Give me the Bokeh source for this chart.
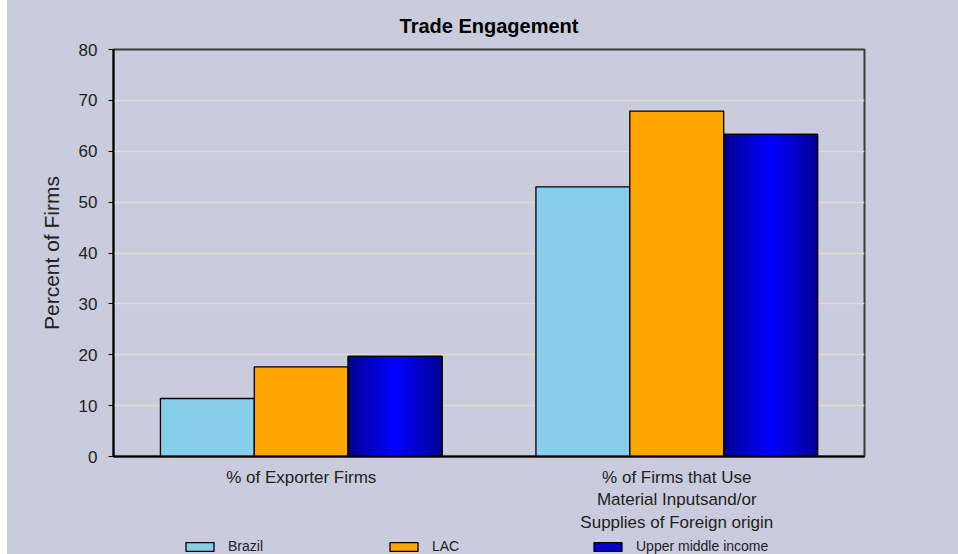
from bokeh.plotting import figure
from bokeh.models import ColumnDataSource, FactorRange, Legend, LegendItem, FixedTicker
from bokeh.layouts import column
from bokeh.transform import dodge
from bokeh.embed import file_html
from bokeh.resources import INLINE

# ---- data ----
categories = ["% of Exporter Firms",
              "% of Firms that Use\nMaterial Inputsand/or\nSupplies of Foreign origin"]
series_names = ["Brazil", "LAC", "Upper middle income"]
series_fields = ["brazil", "lac", "umi"]
series_colors = ["#87CEEB", "#FFA500", "#000095"]
legend_colors = ["#87CEEB", "#FFA500", "#0000CC"]
brazil = [11.4, 53.0]
lac = [17.6, 67.9]
umi = [19.7, 63.3]
y_ticks = [0, 10, 20, 30, 40, 50, 60, 70, 80]

src = ColumnDataSource(dict(cat=categories, brazil=brazil, lac=lac, umi=umi))

BG = "#CACBDD"
FONT = "Liberation Sans"
W = 951
BL, BR = 106, 94

p = figure(width=W, height=535, x_range=FactorRange(*categories, range_padding=0),
           y_range=(0, 80), output_backend="svg", toolbar_location=None,
           background_fill_color=BG, border_fill_color=BG,
           min_border_left=BL, min_border_right=BR, min_border_top=49, min_border_bottom=78)

p.title.text = "Trade Engagement"
p.title.align = "center"
p.title.text_font = FONT
p.title.text_font_size = "20px"
p.title.text_font_style = "bold"
p.title.text_color = "#000000"
p.title.standoff = 25

bw = 0.25
offsets = [-bw, 0, bw]
for fld, col, off in zip(series_fields, series_colors, offsets):
    p.vbar(x=dodge("cat", off, range=p.x_range), top=fld, width=bw, source=src,
           fill_color=col, line_color="#000000", line_width=1.3)
# horizontal gradient (dark edges -> bright centre) via nested bars
N = 18
for k in range(1, N):
    f = k / (N - 1)
    b = int(0x95 + (0xFF - 0x95) * f)
    p.vbar(x=dodge("cat", bw, range=p.x_range), top="umi", width=bw * (1 - k / N), source=src,
           fill_color="#0000%02x" % b, line_color=None)
p.vbar(x=dodge("cat", bw, range=p.x_range), top="umi", width=bw, source=src,
       fill_color=None, line_color="#000000", line_width=1.3)

# axes
p.xaxis.major_tick_line_color = None
p.xaxis.minor_tick_line_color = None
p.xaxis.axis_line_color = "#000000"
p.xaxis.axis_line_width = 2
p.xaxis.major_label_text_font = FONT
p.xaxis.major_label_text_font_size = "17px"
p.xaxis.major_label_text_color = "#222222"
p.xaxis.major_label_standoff = 5

p.yaxis.ticker = FixedTicker(ticks=y_ticks)
p.yaxis.axis_label = "Percent of Firms"
p.yaxis.axis_label_text_font = FONT
p.yaxis.axis_label_text_font_size = "21px"
p.yaxis.axis_label_text_font_style = "normal"
p.yaxis.axis_label_text_color = "#222222"
p.yaxis.axis_label_standoff = 13
p.yaxis.major_label_text_font = FONT
p.yaxis.major_label_text_font_size = "17px"
p.yaxis.major_label_text_color = "#222222"
p.yaxis.major_label_standoff = 11
p.yaxis.major_tick_out = 5
p.yaxis.major_tick_in = 0
p.yaxis.minor_tick_line_color = None
p.yaxis.axis_line_color = "#000000"
p.yaxis.axis_line_width = 2
p.yaxis.major_tick_line_color = "#000000"

p.xgrid.grid_line_color = None
p.ygrid.grid_line_color = "#DCDCD4"
p.ygrid.grid_line_width = 1.5

p.outline_line_color = "#3A3A3A"
p.outline_line_width = 2

# ---- legend strip below the chart (its bar renderers are hidden; only the legend shows) ----
lg = figure(width=W, height=19, x_range=FactorRange(*categories, range_padding=0),
            y_range=(0, 80), output_backend="svg", toolbar_location=None,
            background_fill_color=BG, border_fill_color=BG,
            min_border_left=BL, min_border_right=BR, min_border_top=0, min_border_bottom=0)
lg.axis.visible = False
lg.grid.visible = False
lg.outline_line_color = None
items = []
for name, fld, col, off in zip(series_names, series_fields, legend_colors, offsets):
    r = lg.vbar(x=dodge("cat", off, range=lg.x_range), top=fld, width=bw, source=src,
                fill_color=col, line_color="#000000", line_width=1.3)
    r.visible = False
    items.append(LegendItem(label=name, renderers=[r]))
legend = Legend(items=items, orientation="horizontal", location=(69, 0),
                glyph_width=35, glyph_height=11, label_standoff=11, label_width=158,
                label_height=14, spacing=0, padding=0, margin=0,
                border_line_color=None, background_fill_alpha=0,
                inactive_fill_alpha=0,
                label_text_font=FONT, label_text_font_size="14px",
                label_text_color="#222222")
lg.add_layout(legend, "center")

layout = column(p, lg, spacing=0, margin=(0, 0, 0, 7), styles={"background-color": BG})
open("out.html", "w").write(file_html(layout, INLINE))
